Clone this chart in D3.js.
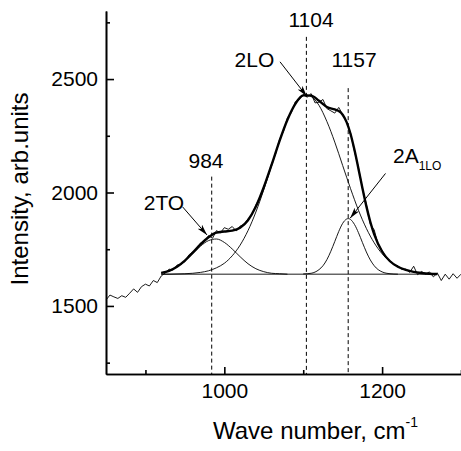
<!DOCTYPE html>
<html>
<head>
<meta charset="utf-8">
<script src="https://cdn.jsdelivr.net/npm/d3@7"></script>
<style>
  body { margin: 0; background: #fff; }
  svg { display: block; font-family: "Liberation Sans", Arial, sans-serif; }
</style>
</head>
<body>
<div id="chart"></div>
<script>
// measured spectrum (thin, noisy)
var specX = [850, 855, 860, 865, 870, 875, 880, 885, 890, 895,
             900, 905, 910, 915, 920, 925, 930, 935, 940, 945,
             950, 955, 960, 965, 970, 975, 980, 985, 990, 995,
             1000, 1005, 1010, 1015, 1020, 1025, 1030, 1035, 1040, 1045,
             1050, 1055, 1060, 1065, 1070, 1075, 1080, 1085, 1090, 1095,
             1100, 1105, 1110, 1115, 1120, 1125, 1130, 1135, 1140, 1145,
             1150, 1155, 1160, 1165, 1170, 1175, 1180, 1185, 1190, 1195,
             1200, 1205, 1210, 1215, 1220, 1225, 1230, 1235, 1240, 1245,
             1250, 1255, 1260, 1265, 1270, 1275, 1280, 1285, 1290, 1295, 1300];
var specY = [1526, 1548, 1540, 1533, 1545, 1538, 1556, 1575, 1560, 1585,
             1596, 1588, 1612, 1603, 1632, 1645, 1662, 1658, 1680, 1684,
             1695, 1725, 1738, 1748, 1778, 1785, 1810, 1798, 1832, 1822,
             1845, 1838, 1850, 1830, 1852, 1858, 1884, 1902, 1945, 1976,
             2026, 2070, 2128, 2170, 2235, 2270, 2330, 2352, 2400, 2408,
             2432, 2420, 2436, 2395, 2398, 2410, 2370, 2360, 2350, 2375,
             2345, 2310, 2262, 2180, 2110, 2020, 1948, 1860, 1835, 1770,
             1745, 1712, 1700, 1680, 1678, 1660, 1662, 1648, 1675, 1638,
             1652, 1640, 1650, 1628, 1645, 1612, 1640, 1618, 1642, 1622, 1640];

// fitted sum (thick)
var fitX = [920, 930, 940, 950, 960, 970, 980, 990, 1000, 1010,
            1020, 1030, 1040, 1050, 1060, 1070, 1080, 1090, 1100, 1110,
            1120, 1130, 1140, 1145, 1150, 1155, 1160, 1165, 1170, 1175,
            1180, 1185, 1190, 1200, 1210, 1220, 1230, 1240, 1250, 1260, 1270];
var fitY = [1646, 1655, 1673, 1700, 1735, 1772, 1803, 1823, 1828, 1832,
            1845, 1878, 1938, 2023, 2123, 2228, 2321, 2391, 2428, 2427,
            2404, 2377, 2366, 2359, 2343, 2310, 2258, 2187, 2105, 2020,
            1940, 1871, 1815, 1740, 1697, 1673, 1659, 1650, 1645, 1642, 1641];

// fitted components (thin)
var toX = [920, 930, 940, 950, 960, 970, 980, 990, 1000, 1010, 1020, 1030, 1040, 1050, 1060, 1070, 1080];
var toY = [1646, 1655, 1672, 1698, 1731, 1764, 1788, 1795, 1780, 1751, 1717, 1686, 1664, 1651, 1644, 1642, 1640];

var loX = [920, 930, 940, 950, 960, 970, 980, 990, 1000, 1010,
           1020, 1030, 1040, 1050, 1060, 1070, 1080, 1090, 1100, 1104,
           1110, 1120, 1130, 1140, 1150, 1160, 1170, 1180, 1190, 1200,
           1210, 1220, 1230, 1240, 1250, 1260, 1270];
var loY = [1640, 1640, 1641, 1642, 1644, 1648, 1655, 1668, 1688, 1721,
           1768, 1832, 1914, 2012, 2119, 2226, 2321, 2391, 2427, 2430,
           2423, 2384, 2313, 2222, 2119, 2017, 1922, 1842, 1778, 1730,
           1696, 1673, 1659, 1650, 1645, 1642, 1641];

var a1X = [1100, 1110, 1120, 1125, 1130, 1135, 1140, 1145, 1150, 1155, 1157,
           1160, 1165, 1170, 1175, 1180, 1185, 1190, 1200, 1210, 1220];
var a1Y = [1641, 1644, 1660, 1677, 1704, 1741, 1784, 1828, 1864, 1883, 1885,
           1881, 1859, 1823, 1780, 1738, 1703, 1677, 1650, 1642, 1640];

var baseX = [920, 1270];
var baseY = [1640, 1640];

// peak markers
var peakPos = [984, 1104, 1157];
var peakTop = [2070, 2686, 2460];
var peakText = ["984", "1104", "1157"];

var yMajor = [1500, 2000, 2500];
var yMinor = [1250, 1750, 2250, 2750];
var xMajor = [1000, 1200];
var xMinor = [900, 1100, 1300];

var margin = {left: 106, top: 11, right: 0, bottom: 77},
    width = 461 - margin.left - margin.right,
    height = 451 - margin.top - margin.bottom;

var svg = d3.select("#chart").append("svg")
    .attr("width", 461)
    .attr("height", 451);

var g = svg.append("g")
    .attr("transform", "translate(" + margin.left + "," + margin.top + ")");

var x = d3.scaleLinear().domain([850, 1300]).range([0, width]);
var y = d3.scaleLinear().domain([1200, 2800]).range([height, 0]);

function styleAxis(sel) {
  sel.attr("font-family", null).attr("font-size", null);
  sel.select(".domain").attr("stroke", "#000").attr("stroke-width", 1.6);
  sel.selectAll(".tick line").attr("stroke", "#000").attr("stroke-width", 1.6);
  sel.selectAll(".tick text").attr("fill", "#000").style("font-size", "21px");
}

// minor ticks first, majors on top
g.append("g")
  .call(d3.axisLeft(y).tickValues(yMinor).tickSizeInner(-4).tickSizeOuter(0).tickFormat(""))
  .call(styleAxis);
g.append("g")
  .call(d3.axisLeft(y).tickValues(yMajor).tickSizeInner(-8).tickSizeOuter(0).tickPadding(8).tickFormat(d3.format("d")))
  .call(styleAxis);

g.append("g")
  .attr("transform", "translate(0," + height + ")")
  .call(d3.axisBottom(x).tickValues(xMinor).tickSizeInner(-4).tickSizeOuter(0).tickFormat(""))
  .call(styleAxis);
g.append("g")
  .attr("transform", "translate(0," + height + ")")
  .call(d3.axisBottom(x).tickValues(xMajor).tickSizeInner(-7).tickSizeOuter(0).tickPadding(9).tickFormat(d3.format("d")))
  .call(styleAxis);

// dashed peak lines
g.selectAll(".peak")
  .data(peakPos)
.enter().append("line")
  .attr("class", "peak")
  .attr("x1", function (d) { return x(d); })
  .attr("x2", function (d) { return x(d); })
  .attr("y1", function (d, i) { return y(peakTop[i]); })
  .attr("y2", y(1200))
  .attr("stroke", "#000")
  .attr("stroke-width", 1)
  .attr("stroke-dasharray", "4,3");

function series(xs, ys) {
  return xs.map(function (d, i) { return [d, ys[i]]; });
}

var smooth = d3.line()
    .x(function (d) { return x(d[0]); })
    .y(function (d) { return y(d[1]); })
    .curve(d3.curveMonotoneX);
var jagged = d3.line()
    .x(function (d) { return x(d[0]); })
    .y(function (d) { return y(d[1]); });

[series(baseX, baseY), series(toX, toY), series(loX, loY), series(a1X, a1Y)].forEach(function (s) {
  g.append("path")
    .datum(s)
    .attr("fill", "none")
    .attr("stroke", "#000")
    .attr("stroke-width", 0.9)
    .attr("d", smooth);
});

g.append("path")
  .datum(series(specX, specY))
  .attr("fill", "none")
  .attr("stroke", "#000")
  .attr("stroke-width", 0.9)
  .attr("d", jagged);

g.append("path")
  .datum(series(fitX, fitY))
  .attr("fill", "none")
  .attr("stroke", "#000")
  .attr("stroke-width", 2.4)
  .attr("d", smooth);

// arrows and labels
svg.append("defs").append("marker")
    .attr("id", "head")
    .attr("viewBox", "0 -3 11 6")
    .attr("refX", 11)
    .attr("refY", 0)
    .attr("markerWidth", 11)
    .attr("markerHeight", 6)
    .attr("markerUnits", "userSpaceOnUse")
    .attr("orient", "auto")
  .append("path")
    .attr("d", "M0,-3L11,0L0,3L3,0Z")
    .attr("fill", "#000");

var arrows = [
  {from: [947, 1937], to: [978, 1813]},
  {from: [1070.6, 2576], to: [1104.5, 2424]},
  {from: [1204.3, 2084], to: [1159.5, 1887]}
];

g.selectAll(".arrow")
  .data(arrows)
.enter().append("line")
  .attr("class", "arrow")
  .attr("x1", function (d) { return x(d.from[0]); })
  .attr("y1", function (d) { return y(d.from[1]); })
  .attr("x2", function (d) { return x(d.to[0]); })
  .attr("y2", function (d) { return y(d.to[1]); })
  .attr("stroke", "#000")
  .attr("stroke-width", 1)
  .attr("marker-end", "url(#head)");

var labels = [
  {text: peakText[0], x: 976.8, y: 2108},
  {text: peakText[1], x: 1109.9, y: 2729},
  {text: peakText[2], x: 1164.4, y: 2553},
  {text: "2TO", x: 923.5, y: 1923},
  {text: "2LO", x: 1038.2, y: 2553}
];

g.selectAll(".label")
  .data(labels)
.enter().append("text")
  .attr("class", "label")
  .attr("x", function (d) { return x(d.x); })
  .attr("y", function (d) { return y(d.y); })
  .attr("text-anchor", "middle")
  .style("font-size", "21px")
  .text(function (d) { return d.text; });

var a1 = g.append("text")
  .attr("x", x(1213.8))
  .attr("y", y(2130))
  .style("font-size", "21px")
  .text("2A");
a1.append("tspan")
  .attr("dy", 7)
  .style("font-size", "12px")
  .text("1LO");

// axis titles
svg.append("text")
  .attr("transform", "translate(28,189) rotate(-90)")
  .attr("text-anchor", "middle")
  .style("font-size", "24px")
  .text("Intensity, arb.units");

var xt = svg.append("text")
  .attr("x", 213)
  .attr("y", 439)
  .style("font-size", "24px")
  .text("Wave number, cm");
xt.append("tspan")
  .attr("dy", -12)
  .style("font-size", "14px")
  .text("-1");
</script>
</body>
</html>
